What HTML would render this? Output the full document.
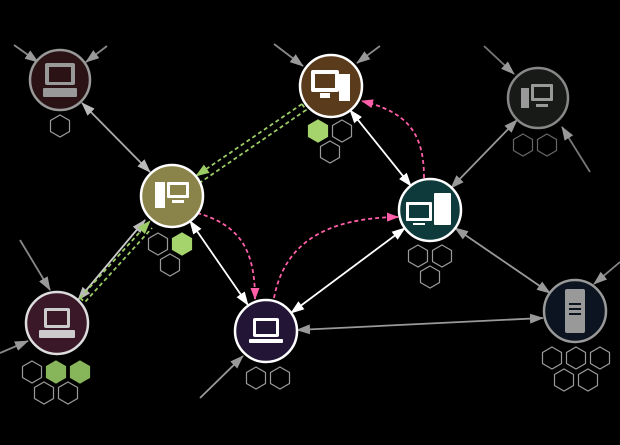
<!DOCTYPE html>
<html><head><style>html,body{margin:0;padding:0;background:#000;}svg{display:block}</style></head><body>
<svg width="620" height="445" viewBox="0 0 620 445" xmlns="http://www.w3.org/2000/svg" font-family="Liberation Sans, sans-serif">
<defs>
<marker id="w" markerWidth="14" markerHeight="10" refX="13" refY="5" orient="auto-start-reverse" markerUnits="userSpaceOnUse"><path d="M0,0 L14,5 L0,10 Z" fill="#fff"/></marker>
<marker id="g" markerWidth="14" markerHeight="10" refX="13" refY="5" orient="auto-start-reverse" markerUnits="userSpaceOnUse"><path d="M0,0 L14,5 L0,10 Z" fill="#999"/></marker>
<marker id="lg" markerWidth="14" markerHeight="10" refX="13" refY="5" orient="auto-start-reverse" markerUnits="userSpaceOnUse"><path d="M0,0 L14,5 L0,10 Z" fill="#bbb"/></marker>
<marker id="p" markerWidth="12" markerHeight="9" refX="11" refY="4.5" orient="auto" markerUnits="userSpaceOnUse"><path d="M0,0 L12,4.5 L0,9 Z" fill="#ff5fa8"/></marker>
<marker id="gr" markerWidth="14" markerHeight="10" refX="13" refY="5" orient="auto" markerUnits="userSpaceOnUse"><path d="M0,0 L14,5 L0,10 Z" fill="#9ccc65"/></marker>
<path id="hx" d="M0,-11 L9.5,-5.5 L9.5,5.5 L0,11 L-9.5,5.5 L-9.5,-5.5 Z"/>
</defs>
<g stroke-width="1.8" fill="none">
<line x1="14" y1="45" x2="38" y2="62" stroke="#888" marker-end="url(#g)"/>
<line x1="107" y1="46" x2="86" y2="62" stroke="#888" marker-end="url(#g)"/>
<line x1="274" y1="44" x2="303" y2="66" stroke="#888" marker-end="url(#g)"/>
<line x1="380" y1="46" x2="357" y2="63" stroke="#888" marker-end="url(#g)"/>
<line x1="484" y1="46" x2="514" y2="74" stroke="#777" marker-end="url(#g)"/>
<line x1="590" y1="172" x2="562" y2="127" stroke="#777" marker-end="url(#g)"/>
<line x1="20" y1="240" x2="50" y2="290" stroke="#888" marker-end="url(#g)"/>
<line x1="0" y1="353" x2="28" y2="341" stroke="#888" marker-end="url(#g)"/>
<line x1="200" y1="398" x2="243" y2="356" stroke="#999" marker-end="url(#g)"/>
<line x1="620" y1="262" x2="594" y2="284" stroke="#888" marker-end="url(#g)"/>
<line x1="82" y1="103" x2="150" y2="172" stroke="#aaa" marker-start="url(#lg)" marker-end="url(#lg)"/>
<line x1="78" y1="300" x2="145" y2="220" stroke="#ccc" marker-start="url(#lg)" marker-end="url(#lg)"/>
<line x1="190" y1="221" x2="248" y2="305" stroke="#fff" marker-start="url(#w)" marker-end="url(#w)"/>
<line x1="350" y1="110" x2="411" y2="186" stroke="#fff" marker-start="url(#w)" marker-end="url(#w)"/>
<line x1="291" y1="313" x2="405" y2="228" stroke="#fff" marker-start="url(#w)" marker-end="url(#w)"/>
<line x1="517" y1="120" x2="451" y2="188" stroke="#999" marker-start="url(#g)" marker-end="url(#g)"/>
<line x1="455" y1="228" x2="550" y2="293" stroke="#999" marker-start="url(#g)" marker-end="url(#g)"/>
<line x1="297" y1="330" x2="543" y2="318" stroke="#999" marker-start="url(#g)" marker-end="url(#g)"/>
<path d="M302,104 L196,176" stroke="#9ccc65" stroke-dasharray="4,3" marker-end="url(#gr)"/>
<path d="M302,104 L306,110 L201,182" stroke="#9ccc65" stroke-dasharray="4,3"/>
<path d="M80,298 L150,221" stroke="#9ccc65" stroke-dasharray="4,3" marker-end="url(#gr)"/>
<path d="M80,298 L85,302 L152,228" stroke="#9ccc65" stroke-dasharray="4,3"/>
<path d="M197,213 C240,225 255,250 255,299" stroke="#ff5fa8" stroke-dasharray="4,3" marker-end="url(#p)"/>
<path d="M274,298 C285,240 330,218 398,217" stroke="#ff5fa8" stroke-dasharray="4,3" marker-end="url(#p)"/>
<path d="M424,178 C424,130 405,112 362,101" stroke="#ff5fa8" stroke-dasharray="4,3" marker-end="url(#p)"/>
</g>
<g stroke-width="2.5">
<circle cx="60" cy="80" r="30" fill="#2b1315" stroke="#999"/>
<circle cx="172" cy="196" r="31" fill="#8a844a" stroke="#fff"/>
<circle cx="331" cy="86" r="31" fill="#5a3b1c" stroke="#fff"/>
<circle cx="538" cy="98" r="30" fill="#171a16" stroke="#888"/>
<circle cx="430" cy="210" r="31" fill="#0f3a3b" stroke="#fff"/>
<circle cx="57" cy="323" r="31" fill="#3a1828" stroke="#ddd"/>
<circle cx="266" cy="331" r="31" fill="#231536" stroke="#fff"/>
<circle cx="575" cy="311" r="31" fill="#0b1420" stroke="#999"/>
</g>
<g fill="#999"><rect x="45" y="63" width="30" height="22" rx="2"/><rect x="49" y="67" width="22" height="15" fill="#2b1315"/><rect x="43" y="88" width="34" height="9" rx="1"/></g>
<g fill="#fff"><rect x="155" y="182" width="10" height="26"/><rect x="167" y="182" width="22" height="16" rx="1"/><rect x="170" y="185" width="16" height="10" fill="#8a844a"/><rect x="172" y="200" width="12" height="3"/></g>
<g fill="#fff"><rect x="311" y="70" width="28" height="22" rx="2"/><rect x="315" y="74" width="20" height="14" fill="#5a3b1c"/><rect x="320" y="93" width="10" height="5"/><rect x="339" y="74" width="11" height="27"/></g>
<g fill="#999"><rect x="521" y="88" width="8" height="20"/><rect x="531" y="84" width="22" height="17" rx="1"/><rect x="534" y="87" width="16" height="11" fill="#171a16"/><rect x="536" y="104" width="12" height="3"/></g>
<g fill="#fff"><rect x="406" y="202" width="26" height="19" rx="1"/><rect x="409" y="205" width="20" height="13" fill="#0f3a3b"/><rect x="413" y="223" width="12" height="2"/><rect x="434" y="193" width="17" height="32" rx="1"/></g>
<g fill="#ccc"><rect x="44" y="308" width="26" height="20" rx="2"/><rect x="47" y="311" width="20" height="14" fill="#3a1828"/><rect x="39" y="330" width="36" height="8" rx="1"/></g>
<g fill="#fff"><rect x="253" y="318" width="26" height="19" rx="2"/><rect x="256" y="321" width="20" height="13" fill="#231536"/><rect x="249" y="339" width="34" height="4" rx="1"/></g>
<g fill="#999"><rect x="565" y="289" width="20" height="44" rx="2"/><rect x="569" y="303" width="12" height="2" fill="#0b1420"/><rect x="569" y="308" width="12" height="2" fill="#0b1420"/><rect x="569" y="313" width="12" height="2" fill="#0b1420"/></g>
<g stroke="#999" stroke-width="1.2" fill="none">
<use href="#hx" x="60" y="126"/>
<use href="#hx" x="318" y="131" fill="#a5d36c" stroke="#a5d36c"/><use href="#hx" x="342" y="131"/><use href="#hx" x="330" y="152"/>
<use href="#hx" x="158" y="244"/><use href="#hx" x="182" y="244" fill="#a5d36c" stroke="#a5d36c"/><use href="#hx" x="170" y="265"/>
<use href="#hx" x="418" y="256"/><use href="#hx" x="442" y="256"/><use href="#hx" x="430" y="277"/>
<use href="#hx" x="523" y="145" stroke="#666"/><use href="#hx" x="547" y="145" stroke="#666"/>
<use href="#hx" x="32" y="372"/><use href="#hx" x="56" y="372" fill="#86b55a" stroke="#86b55a"/><use href="#hx" x="80" y="372" fill="#86b55a" stroke="#86b55a"/><use href="#hx" x="44" y="393"/><use href="#hx" x="68" y="393"/>
<use href="#hx" x="256" y="378"/><use href="#hx" x="280" y="378"/>
<use href="#hx" x="552" y="358"/><use href="#hx" x="576" y="358"/><use href="#hx" x="600" y="358"/><use href="#hx" x="564" y="380"/><use href="#hx" x="588" y="380"/>
</g>
</svg>
</body></html>
